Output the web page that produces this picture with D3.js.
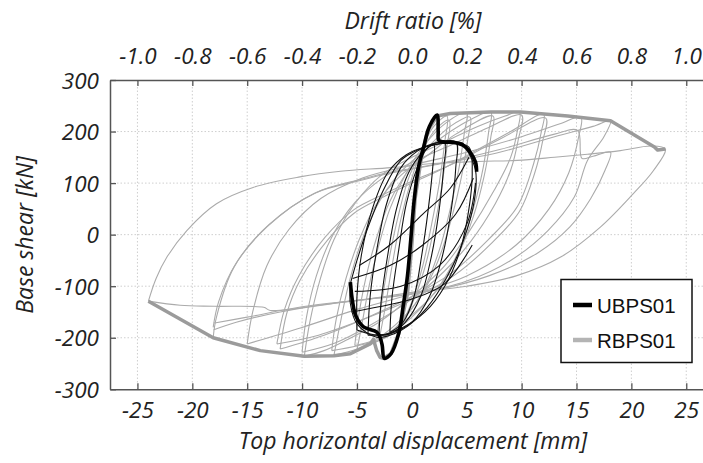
<!DOCTYPE html>
<html>
<head>
<meta charset="utf-8">
<script src="https://cdn.jsdelivr.net/npm/d3@7/dist/d3.min.js"></script>
<style>
  html, body { margin: 0; padding: 0; background: #fff; }
  svg { display: block; }
  .tick-label { font-family: "Open Sans", sans-serif; font-style: italic; font-size: 22.5px; fill: #222; }
  .axis-title { font-family: "Open Sans", sans-serif; font-style: italic; font-size: 23px; fill: #222; }
  .legend-text { font-family: "Liberation Sans", Arial, sans-serif; font-size: 20.5px; fill: #111; }
</style>
</head>
<body>
<svg id="chart" width="703" height="463"></svg>
<script>
// ---------------- DATA ----------------
const xTicks = [-25, -20, -15, -10, -5, 0, 5, 10, 15, 20, 25];
const yTicks = [-300, -200, -100, 0, 100, 200, 300];
const driftTicks = [-1.0, -0.8, -0.6, -0.4, -0.2, 0.0, 0.2, 0.4, 0.6, 0.8, 1.0];
const seriesNames = ["UBPS01", "RBPS01"];

// RBPS01 envelope (thick grey): [displacement mm, base shear kN]
const rbpsEnvelope = [
  [-24.0, -129], [-18.1, -200], [-13.8, -225], [-9.8, -236], [-7.1, -235], [-5.6, -231],
  [-3.8, -212], [-3.5, -203], [-3.2, -225], [-2.9, -238], [-2.6, -240], [-1.9, -231],
  [-1.2, -192], [-0.4, -115], [0.0, -20], [0.3, 70], [0.8, 140], [1.4, 200], [2.3, 230],
  [3.5, 235], [7.2, 238], [9.9, 238], [14.2, 230], [18.1, 221], [22.1, 170], [22.4, 164], [23.1, 166]
];

// UBPS01 envelope / first-cycle path (thick black)
const ubpsEnvelope = [
  [-5.6, -92], [-5.4, -130], [-5.1, -158], [-4.4, -179], [-3.2, -189], [-2.9, -199],
  [-2.7, -215], [-2.5, -240], [-1.9, -231], [-1.2, -192], [-0.8, -140], [-0.4, -80],
  [-0.1, -10], [0.2, 65], [0.6, 130], [1.1, 172], [1.6, 210], [2.3, 232], [2.4, 200],
  [2.45, 183], [2.9, 180], [3.8, 179], [4.7, 173], [5.3, 160], [5.8, 141], [5.9, 122]
];

// RBPS01 hysteresis cycles (thin grey)
const rbpsCycles = [
  [[-3.0,-205],[-2.5,-150],[-1.8,-60],[-1.0,30],[0,110],[1,170],[2,210],[3.2,230],[3.0,180],[2.5,100],[1.8,20],[1,-60],[0,-130],[-1,-175],[-2,-195],[-3.0,-205]],
  [[-3.2,-200],[-2.8,-140],[-2.1,-50],[-1.2,40],[-0.2,115],[1,165],[2.2,205],[3.4,222],[3.2,170],[2.7,90],[2.0,10],[1.1,-70],[0,-135],[-1.2,-178],[-3.2,-200]],
  [[-5,-224],[-4.6,-180],[-3.9,-100],[-3,-20],[-2,50],[-0.5,120],[1,170],[3,215],[5,236],[4.8,200],[4.3,130],[3.5,50],[2.5,-30],[1,-110],[-1,-170],[-3,-205],[-5,-224]],
  [[-5.2,-215],[-4.9,-165],[-4.2,-85],[-3.2,-5],[-2,65],[-0.3,125],[1.5,170],[3.5,210],[5.3,228],[5.1,185],[4.5,110],[3.6,30],[2.4,-50],[0.8,-120],[-1.5,-175],[-3.5,-205],[-5.2,-215]],
  [[-7.1,-234],[-6.6,-180],[-5.8,-100],[-4.7,-20],[-3.2,55],[-1.3,115],[1,160],[3.5,200],[5.5,225],[7.2,238],[7.0,200],[6.5,130],[5.6,50],[4.3,-30],[2.5,-100],[0,-160],[-2.5,-200],[-5,-222],[-7.1,-234]],
  [[-7.3,-225],[-6.9,-165],[-6.0,-85],[-4.8,-10],[-3.2,60],[-1,115],[1.5,155],[4,195],[7.4,230],[7.2,190],[6.6,115],[5.6,35],[4.2,-40],[2.2,-110],[-0.5,-165],[-3,-203],[-7.3,-225]],
  [[-9.8,-236],[-9.3,-170],[-8.4,-90],[-7.1,-10],[-5.2,60],[-2.8,115],[0,150],[3,180],[6,210],[8.5,230],[9.8,238],[9.6,200],[9.0,150],[7.5,86],[5.1,2],[3,-60],[0,-120],[-3,-170],[-6,-205],[-8,-225],[-9.8,-236]],
  [[-10,-228],[-9.6,-160],[-8.7,-80],[-7.3,-5],[-5.2,62],[-2.5,112],[0.5,145],[4,178],[7,208],[10,232],[9.7,185],[9.0,125],[7.6,60],[5.3,-15],[3,-70],[0,-125],[-4,-178],[-7,-210],[-10,-228]],
  [[-12,-222],[-11.4,-153],[-10.2,-89],[-7.7,-11],[-5.3,41],[-2.6,73],[0,100],[3,130],[6,165],[9,200],[12,234],[11.8,200],[11.1,138],[9.6,54],[6.9,-11],[3.5,-76],[0,-120],[-4,-160],[-8,-195],[-12,-222]],
  [[-12.3,-212],[-11.6,-145],[-10.3,-80],[-7.9,-5],[-5.3,48],[-2.4,80],[0.5,108],[4,140],[8,185],[12.2,226],[11.9,180],[11.2,120],[9.8,45],[7.2,-18],[3.8,-80],[0,-125],[-4.5,-165],[-8.5,-195],[-12.3,-212]],
  [[-15,-212],[-14.5,-150],[-13.2,-60],[-11.2,10],[-8.3,70],[-4.5,110],[0,135],[5,160],[10,190],[13.5,215],[15.4,228],[15.2,190],[14.3,120],[12.5,50],[9.5,-20],[5,-80],[0,-115],[-5,-145],[-10,-180],[-15,-212]],
  [[-18.1,-200],[-17.8,-160],[-16.2,-63],[-13.2,15],[-8.9,80],[-4.7,105],[-2.2,118],[2,135],[8,160],[13,190],[16.5,210],[18.1,221],[17.5,190],[16,144],[14.8,73],[12.4,8],[9,-50],[5,-90],[0,-115],[-6,-130],[-12,-150],[-16,-170],[-18.1,-185]],
  [[-18.1,-180],[-17.6,-130],[-16,-55],[-13,20],[-8.7,82],[-4.5,108],[-2,121],[3,140],[8,165],[13,195],[15.1,202],[15.5,148],[16.5,152],[18.1,160],[17.6,125],[16.3,70],[14.4,15],[11.5,-35],[7,-80],[2,-108],[-4,-125],[-10,-140],[-15,-160],[-18.1,-172]],
  [[-24,-129],[-23.3,-85],[-22.3,-43],[-20.5,8],[-17.8,60],[-14.4,92],[-10.2,112],[-6.5,123],[-1.9,130],[2,138],[6,142],[9.6,144],[13,150],[16,156],[19,163],[21.8,172],[23.1,166],[22,124],[20.2,80],[17.2,15],[13.6,-43],[9.5,-80],[5,-100],[0,-112],[-4,-125],[-7.1,-133],[-12.9,-147],[-13.5,-141],[-18,-139],[-21.1,-137],[-24,-129]]
];

// UBPS01 hysteresis cycles (thin black)
const ubpsCycles = [
  [[-2.0,-190],[-1.8,-120],[-1.2,-30],[-0.5,60],[0.5,130],[1.3,165],[2.0,175],[1.9,130],[1.5,50],[0.9,-40],[0.2,-120],[-0.8,-170],[-2.0,-190]],
  [[-3,-195],[-2.8,-130],[-2.2,-40],[-1.4,50],[-0.3,120],[1,160],[2.2,178],[3,180],[2.9,130],[2.5,50],[1.8,-40],[0.8,-120],[-0.6,-170],[-2,-192],[-3,-195]],
  [[-4,-195],[-3.8,-120],[-3.2,-30],[-2.3,60],[-1,130],[0.5,162],[2,177],[4,180],[4.0,130],[3.6,50],[2.8,-40],[1.6,-120],[0,-170],[-2,-192],[-4,-195]],
  [[-5,-185],[-5,-120],[-4.6,-40],[-3.6,50],[-2.2,120],[-0.5,155],[1.5,172],[3.5,178],[5.2,170],[5.5,120],[5.2,50],[4.4,-30],[3.0,-100],[1.2,-150],[-1,-182],[-3,-195],[-5,-185]],
  [[-5.6,-95],[-5.0,-50],[-4.1,8],[-2.6,86],[-1.0,144],[0.5,164],[2.0,174],[4.6,178],[5.05,164],[5.8,125],[5.7,67],[4.7,-11],[3.2,-82],[1.4,-141],[-0.1,-173],[-1.6,-192],[-3.2,-199],[-5.0,-173],[-5.6,-134],[-5.6,-95]],
  [[-5.4,-85],[-2,-60],[1,-20],[4,40],[5.6,110]],
  [[-5.2,-110],[-1,-100],[2.5,-60],[5,20],[5.8,100]],
  [[-5.5,-150],[-3,-140],[0,-125],[3,-95],[5.5,-20]],
  [[-4.8,-60],[-2,-20],[1,40],[3.5,90],[5.2,150]]
];

// ---------------- CHART ----------------
const svg = d3.select("#chart");
const x = d3.scaleLinear().domain([-27.5, 27.5]).range([110, 713.7]);
const xDrift = d3.scaleLinear().domain([-1.1, 1.1]).range([110, 713.7]);
const y = d3.scaleLinear().domain([-300, 300]).range([389.3, 80]);

const defs = svg.append("defs");
defs.append("clipPath").attr("id", "clip")
  .append("rect").attr("x", 110).attr("y", 80).attr("width", 603.7).attr("height", 309.3);

// grid
const grid = svg.append("g");
grid.selectAll("line.gx").data(xTicks).join("line")
  .attr("x1", d => x(d)).attr("x2", d => x(d)).attr("y1", 80).attr("y2", 389.3)
  .attr("stroke", "#cfcfcf").attr("stroke-width", 1).attr("stroke-dasharray", "1.5,2");
grid.selectAll("line.gy").data(yTicks.filter(d => d !== 300 && d !== -300)).join("line")
  .attr("x1", 110).attr("x2", 713.7).attr("y1", d => y(d)).attr("y2", d => y(d))
  .attr("stroke", "#cfcfcf").attr("stroke-width", 1).attr("stroke-dasharray", "1.5,2");

// data
const g = svg.append("g").attr("clip-path", "url(#clip)");
const line = d3.line().x(d => x(d[0])).y(d => y(d[1])).curve(d3.curveCatmullRom.alpha(0.5));
const lineLin = d3.line().x(d => x(d[0])).y(d => y(d[1]));

g.selectAll("path.rc").data(rbpsCycles).join("path")
  .attr("d", line).attr("fill", "none").attr("stroke", "#ababab").attr("stroke-width", 1.1);
g.append("path").datum(rbpsEnvelope).attr("d", lineLin)
  .attr("fill", "none").attr("stroke", "#9b9b9b").attr("stroke-width", 3.5).attr("stroke-linejoin", "round");
g.selectAll("path.uc").data(ubpsCycles).join("path")
  .attr("d", line).attr("fill", "none").attr("stroke", "#111").attr("stroke-width", 1.1);
g.append("path").datum(ubpsEnvelope).attr("d", line)
  .attr("fill", "none").attr("stroke", "#000").attr("stroke-width", 3.6).attr("stroke-linejoin", "round");

// axes
const axisColor = "#555";
const bottomAxis = d3.axisBottom(x).tickValues(xTicks).tickSizeInner(-6).tickSizeOuter(0);
const gb = svg.append("g").attr("transform", "translate(0,389.3)").call(bottomAxis);
gb.select(".domain").attr("stroke", axisColor).attr("stroke-width", 1.5);
gb.selectAll(".tick line").attr("stroke", axisColor).attr("stroke-width", 1.3);
gb.selectAll(".tick text").attr("class", "tick-label").attr("y", 29).attr("dy", "0")
  .text(d => d < 0 ? "-" + Math.abs(d) : d);

const topAxis = d3.axisTop(xDrift).tickValues(driftTicks).tickSizeInner(-6).tickSizeOuter(0);
const gt = svg.append("g").attr("transform", "translate(0,80)").call(topAxis);
gt.select(".domain").attr("stroke", axisColor).attr("stroke-width", 1.5);
gt.selectAll(".tick line").attr("stroke", axisColor).attr("stroke-width", 1.3);
gt.selectAll(".tick text").attr("class", "tick-label").attr("y", -16).attr("dy", "0")
  .text(d => (d < 0 ? "-" : "") + Math.abs(d).toFixed(1));

const leftAxis = d3.axisLeft(y).tickValues(yTicks).tickSizeInner(-6).tickSizeOuter(0);
const gl = svg.append("g").attr("transform", "translate(110,0)").call(leftAxis);
gl.select(".domain").attr("stroke", axisColor).attr("stroke-width", 1.5);
gl.selectAll(".tick line").attr("stroke", axisColor).attr("stroke-width", 1.3);
gl.selectAll(".tick text").attr("class", "tick-label").attr("x", -11).attr("dy", "0.36em")
  .text(d => d < 0 ? "-" + Math.abs(d) : d);

// titles
svg.append("text").attr("class", "axis-title").attr("x", 413).attr("y", 29)
  .attr("text-anchor", "middle").text("Drift ratio [%]");
svg.append("text").attr("class", "axis-title").attr("x", 413).attr("y", 449)
  .attr("text-anchor", "middle").text("Top horizontal displacement [mm]");
svg.append("text").attr("class", "axis-title")
  .attr("transform", "translate(33,235) rotate(-90)")
  .attr("text-anchor", "middle").text("Base shear [kN]");

// legend
const lg = svg.append("g");
lg.append("rect").attr("x", 561).attr("y", 279.5).attr("width", 131).attr("height", 83)
  .attr("fill", "#fff").attr("stroke", "#111").attr("stroke-width", 1.5);
const legendColors = ["#000", "#b4b4b4"];
const legendY = [305, 340];
lg.selectAll("line.li").data(seriesNames).join("line")
  .attr("x1", 573).attr("x2", 592).attr("y1", (d, i) => legendY[i]).attr("y2", (d, i) => legendY[i])
  .attr("stroke", (d, i) => legendColors[i]).attr("stroke-width", 4.5);
lg.selectAll("text.lt").data(seriesNames).join("text")
  .attr("class", "legend-text").attr("x", 597).attr("y", (d, i) => legendY[i] + 7.5)
  .text(d => d);
</script>
</body>
</html>
